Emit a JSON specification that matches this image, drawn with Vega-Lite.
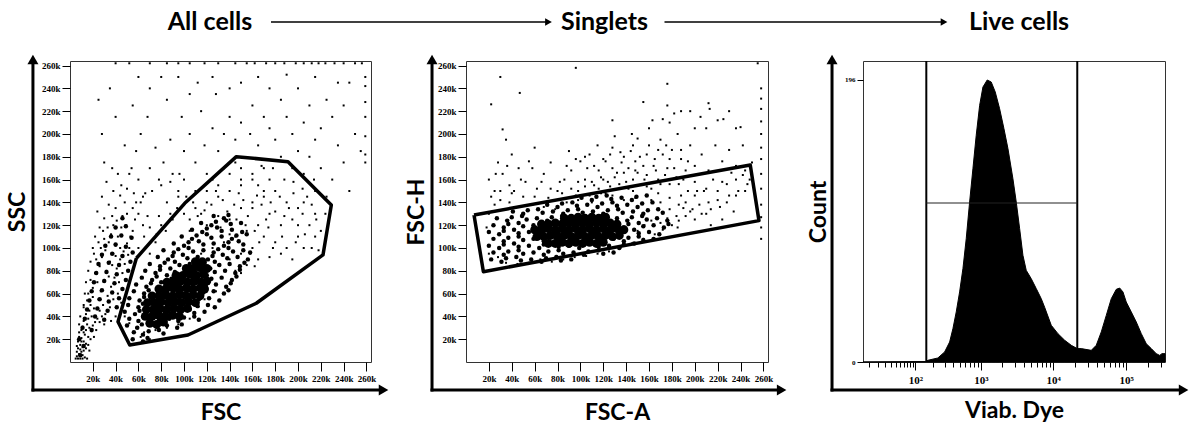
{
"$schema": "https://vega.github.io/schema/vega-lite/v6.json",
"background": "white",
"padding": {"left": 5, "top": 10, "right": 0, "bottom": 0},
"bounds": "flush",
"spacing": 27,
"config": {
  "view": {"stroke": "#333", "strokeWidth": 1},
  "axis": {"labelFont": "Liberation Serif", "labelFontWeight": "bold", "labelFontSize": 9, "labelColor": "#000", "tickColor": "#000", "tickWidth": 1, "domain": false, "grid": false, "titleFont": "Lato", "titleFontWeight": "bold", "titleFontSize": 23, "titleColor": "#000", "labelFlush": false, "labelOverlap": false, "tickCount": 100}
},
"datasets": {
  "headers": [{"label": "All cells"}, {"label": "Singlets"}, {"label": "Live cells"}],
  "links": [{"from": "All cells", "to": "Singlets"}, {"from": "Singlets", "to": "Live cells"}],
  "p1gate": [{"i":0,"x":58.2,"y":91},{"i":1,"x":42.1,"y":35.4},{"i":2,"x":52.4,"y":14.9},{"i":3,"x":103.5,"y":23.7},{"i":4,"x":163.4,"y":51.5},{"i":5,"x":221.9,"y":93.9},{"i":6,"x":229.2,"y":137.7},{"i":7,"x":191.2,"y":175.7},{"i":8,"x":145.9,"y":180.1},{"i":9,"x":100.6,"y":139.2},{"i":10,"x":58.2,"y":91}],
  "p2gate": [{"i":0,"x":7,"y":129},{"i":1,"x":248.5,"y":172.8},{"i":2,"x":256.1,"y":124},{"i":3,"x":15.2,"y":79.2},{"i":4,"x":7,"y":129}],
  "p1c": [{"x":70,"y":34},{"x":76,"y":33},{"x":82,"y":35},{"x":66,"y":40},{"x":72,"y":40},{"x":78,"y":41},{"x":84,"y":40},{"x":90,"y":41},{"x":96,"y":40},{"x":67,"y":46},{"x":73,"y":46},{"x":79,"y":47},{"x":85,"y":46},{"x":91,"y":47},{"x":97,"y":46},{"x":103,"y":47},{"x":68,"y":52},{"x":74,"y":52},{"x":80,"y":53},{"x":86,"y":52},{"x":92,"y":53},{"x":98,"y":52},{"x":104,"y":53},{"x":110,"y":52},{"x":72,"y":58},{"x":78,"y":58},{"x":84,"y":59},{"x":90,"y":58},{"x":96,"y":59},{"x":102,"y":58},{"x":108,"y":59},{"x":114,"y":58},{"x":78,"y":64},{"x":84,"y":64},{"x":90,"y":65},{"x":96,"y":64},{"x":102,"y":65},{"x":108,"y":64},{"x":114,"y":65},{"x":118,"y":64},{"x":85,"y":70},{"x":91,"y":70},{"x":97,"y":71},{"x":103,"y":70},{"x":109,"y":71},{"x":115,"y":70},{"x":120,"y":71},{"x":93,"y":76},{"x":99,"y":76},{"x":105,"y":77},{"x":111,"y":76},{"x":117,"y":77},{"x":102,"y":82},{"x":108,"y":82},{"x":114,"y":83},{"x":120,"y":82},{"x":110,"y":88},{"x":116,"y":88}],
  "p1m": [{"x":55,"y":20},{"x":64,"y":18},{"x":68,"y":21},{"x":56,"y":26},{"x":64,"y":24},{"x":69,"y":27},{"x":78,"y":28},{"x":82,"y":25},{"x":50,"y":32},{"x":59,"y":30},{"x":63,"y":33},{"x":72,"y":34},{"x":76,"y":31},{"x":85,"y":32},{"x":94,"y":30},{"x":98,"y":33},{"x":52,"y":38},{"x":60,"y":36},{"x":65,"y":39},{"x":74,"y":40},{"x":78,"y":37},{"x":87,"y":38},{"x":95,"y":36},{"x":100,"y":39},{"x":109,"y":40},{"x":113,"y":37},{"x":48,"y":44},{"x":57,"y":42},{"x":61,"y":45},{"x":70,"y":46},{"x":74,"y":43},{"x":83,"y":44},{"x":92,"y":42},{"x":96,"y":45},{"x":105,"y":46},{"x":109,"y":43},{"x":118,"y":44},{"x":51,"y":50},{"x":60,"y":48},{"x":64,"y":51},{"x":73,"y":52},{"x":77,"y":49},{"x":86,"y":50},{"x":95,"y":48},{"x":99,"y":51},{"x":108,"y":52},{"x":112,"y":49},{"x":121,"y":50},{"x":127,"y":48},{"x":52,"y":56},{"x":61,"y":54},{"x":65,"y":57},{"x":74,"y":58},{"x":78,"y":55},{"x":87,"y":56},{"x":96,"y":54},{"x":100,"y":57},{"x":109,"y":58},{"x":113,"y":55},{"x":122,"y":56},{"x":131,"y":54},{"x":56,"y":62},{"x":65,"y":60},{"x":69,"y":63},{"x":78,"y":64},{"x":82,"y":61},{"x":91,"y":62},{"x":100,"y":60},{"x":104,"y":63},{"x":113,"y":64},{"x":117,"y":61},{"x":126,"y":62},{"x":135,"y":60},{"x":139,"y":63},{"x":58,"y":68},{"x":67,"y":66},{"x":71,"y":69},{"x":80,"y":70},{"x":84,"y":67},{"x":93,"y":68},{"x":102,"y":66},{"x":106,"y":69},{"x":115,"y":70},{"x":119,"y":67},{"x":128,"y":68},{"x":137,"y":66},{"x":141,"y":69},{"x":63,"y":74},{"x":72,"y":72},{"x":76,"y":75},{"x":85,"y":76},{"x":89,"y":73},{"x":98,"y":74},{"x":107,"y":72},{"x":111,"y":75},{"x":120,"y":76},{"x":124,"y":73},{"x":133,"y":74},{"x":142,"y":72},{"x":146,"y":75},{"x":66,"y":80},{"x":75,"y":78},{"x":79,"y":81},{"x":88,"y":82},{"x":92,"y":79},{"x":101,"y":80},{"x":110,"y":78},{"x":114,"y":81},{"x":123,"y":82},{"x":127,"y":79},{"x":136,"y":80},{"x":145,"y":78},{"x":149,"y":81},{"x":70,"y":86},{"x":79,"y":84},{"x":83,"y":87},{"x":92,"y":88},{"x":96,"y":85},{"x":105,"y":86},{"x":114,"y":84},{"x":118,"y":87},{"x":127,"y":88},{"x":131,"y":85},{"x":140,"y":86},{"x":149,"y":84},{"x":153,"y":87},{"x":77,"y":92},{"x":86,"y":90},{"x":90,"y":93},{"x":99,"y":94},{"x":103,"y":91},{"x":112,"y":92},{"x":121,"y":90},{"x":125,"y":93},{"x":134,"y":94},{"x":138,"y":91},{"x":147,"y":92},{"x":156,"y":90},{"x":82,"y":98},{"x":91,"y":96},{"x":95,"y":99},{"x":104,"y":100},{"x":108,"y":97},{"x":117,"y":98},{"x":126,"y":96},{"x":130,"y":99},{"x":139,"y":100},{"x":143,"y":97},{"x":152,"y":98},{"x":158,"y":96},{"x":91,"y":104},{"x":100,"y":102},{"x":104,"y":105},{"x":113,"y":106},{"x":117,"y":103},{"x":126,"y":104},{"x":135,"y":102},{"x":139,"y":105},{"x":148,"y":106},{"x":152,"y":103},{"x":98,"y":110},{"x":107,"y":108},{"x":111,"y":111},{"x":120,"y":112},{"x":124,"y":109},{"x":133,"y":110},{"x":142,"y":108},{"x":146,"y":111},{"x":155,"y":112},{"x":107,"y":116},{"x":116,"y":114},{"x":120,"y":117},{"x":129,"y":118},{"x":133,"y":115},{"x":142,"y":116},{"x":151,"y":114},{"x":115,"y":122},{"x":124,"y":120},{"x":128,"y":123},{"x":137,"y":124},{"x":141,"y":121},{"x":150,"y":122},{"x":126,"y":128},{"x":135,"y":126},{"x":139,"y":129},
  {"x":11,"y":30},{"x":19,"y":28},{"x":13,"y":38},{"x":22,"y":40},{"x":30,"y":37},{"x":15,"y":46},{"x":24,"y":47},{"x":33,"y":45},{"x":41,"y":48},{"x":17,"y":54},{"x":26,"y":55},{"x":34,"y":53},{"x":43,"y":56},{"x":19,"y":62},{"x":28,"y":63},{"x":37,"y":61},{"x":46,"y":64},{"x":21,"y":70},{"x":30,"y":71},{"x":39,"y":69},{"x":49,"y":72},{"x":23,"y":78},{"x":32,"y":79},{"x":41,"y":77},{"x":51,"y":80},{"x":25,"y":86},{"x":34,"y":87},{"x":43,"y":85},{"x":53,"y":88},{"x":28,"y":94},{"x":37,"y":95},{"x":46,"y":93},{"x":55,"y":96},{"x":31,"y":102},{"x":40,"y":103},{"x":49,"y":101},{"x":36,"y":110},{"x":45,"y":111},{"x":54,"y":109},{"x":40,"y":118},{"x":49,"y":119},{"x":46,"y":126},{"x":8,"y":20},{"x":12,"y":14},{"x":9,"y":6}],
  "p1s": [{"x":5,"y":3},{"x":7,"y":3},{"x":9,"y":3},{"x":11,"y":3},{"x":13,"y":4},{"x":15,"y":3},{"x":6,"y":5},{"x":8,"y":7},{"x":10,"y":9},{"x":7,"y":12},{"x":9,"y":15},{"x":11,"y":13},{"x":12,"y":18},{"x":10,"y":21},{"x":13,"y":24},{"x":8,"y":26},{"x":14,"y":28},{"x":11,"y":31},{"x":15,"y":33},{"x":12,"y":36},{"x":16,"y":38},{"x":9,"y":40},{"x":14,"y":42},{"x":17,"y":45},{"x":12,"y":48},{"x":18,"y":50},{"x":15,"y":54},{"x":20,"y":57},{"x":13,"y":60},{"x":19,"y":62},{"x":10,"y":18},{"x":14,"y":16},{"x":16,"y":22},{"x":6,"y":9},{"x":12,"y":10},{"x":17,"y":30},{"x":8,"y":33},{"x":19,"y":40},{"x":21,"y":47},{"x":22,"y":35},
  {"x":20,"y":65},{"x":24,"y":70},{"x":22,"y":78},{"x":27,"y":62},{"x":30,"y":72},{"x":26,"y":84},{"x":32,"y":80},{"x":28,"y":92},{"x":35,"y":88},{"x":31,"y":98},{"x":38,"y":95},{"x":34,"y":105},{"x":40,"y":102},{"x":36,"y":112},{"x":42,"y":110},{"x":38,"y":120},{"x":45,"y":118},{"x":25,"y":55},{"x":29,"y":50},{"x":33,"y":58},{"x":36,"y":66},{"x":39,"y":74},{"x":41,"y":82},{"x":44,"y":90},{"x":47,"y":97},{"x":50,"y":104},{"x":53,"y":110},{"x":23,"y":90},{"x":27,"y":100},{"x":30,"y":108},{"x":33,"y":118},{"x":37,"y":128},{"x":41,"y":124},{"x":46,"y":128},{"x":49,"y":120},{"x":18,"y":72},{"x":16,"y":80},{"x":21,"y":95},{"x":25,"y":105},{"x":29,"y":115},{"x":34,"y":75},{"x":37,"y":85},{"x":40,"y":93},{"x":43,"y":70},{"x":46,"y":78},{"x":48,"y":86},{"x":51,"y":94},{"x":26,"y":45},{"x":31,"y":42},{"x":35,"y":48},{"x":38,"y":55},{"x":42,"y":60},{"x":45,"y":52},{"x":48,"y":44},{"x":40,"y":40},{"x":36,"y":36},{"x":30,"y":33},{"x":44,"y":100},{"x":52,"y":100},{"x":55,"y":115},{"x":57,"y":125},{"x":50,"y":130},{"x":40,"y":135},{"x":48,"y":140},{"x":55,"y":135},{"x":60,"y":130},
  {"x":30,"y":175},{"x":37,"y":170},{"x":28,"y":200},{"x":45,"y":155},{"x":52,"y":165},{"x":60,"y":160},{"x":66,"y":148},{"x":70,"y":170},{"x":58,"y":185},{"x":48,"y":190},{"x":62,"y":200},{"x":40,"y":215},{"x":55,"y":225},{"x":68,"y":215},{"x":75,"y":188},{"x":82,"y":175},{"x":90,"y":165},{"x":78,"y":160},{"x":95,"y":150},{"x":88,"y":195},{"x":100,"y":185},{"x":105,"y":200},{"x":98,"y":215},{"x":85,"y":230},{"x":70,"y":240},{"x":110,"y":175},{"x":118,"y":190},{"x":125,"y":205},{"x":115,"y":220},{"x":130,"y":185},{"x":135,"y":200},{"x":140,"y":215},{"x":128,"y":235},{"x":112,"y":245},{"x":95,"y":250},{"x":145,"y":195},{"x":150,"y":210},{"x":158,"y":200},{"x":165,"y":190},{"x":160,"y":225},{"x":170,"y":215},{"x":175,"y":205},{"x":180,"y":195},{"x":185,"y":230},{"x":190,"y":215},{"x":195,"y":200},{"x":200,"y":185},{"x":205,"y":210},{"x":210,"y":225},{"x":215,"y":195},{"x":220,"y":205},{"x":225,"y":230},{"x":230,"y":215},{"x":235,"y":190},{"x":240,"y":225},{"x":245,"y":245},{"x":250,"y":200},{"x":255,"y":185},{"x":210,"y":180},{"x":220,"y":170},{"x":230,"y":160},{"x":240,"y":175},{"x":200,"y":240},{"x":175,"y":240},{"x":150,"y":245},{"x":165,"y":250},{"x":190,"y":252},{"x":215,"y":250},{"x":235,"y":245},{"x":125,"y":250},{"x":60,"y":250},{"x":25,"y":230},{"x":35,"y":240},{"x":80,"y":250},{"x":105,"y":235},{"x":140,"y":240},{"x":185,"y":180},{"x":195,"y":170},{"x":170,"y":170},{"x":205,"y":165},{"x":215,"y":150},{"x":225,"y":145},{"x":245,"y":150},{"x":160,"y":160},{"x":150,"y":170},{"x":100,"y":160},{"x":120,"y":165},
  {"x":40,"y":262},{"x":52,"y":262},{"x":70,"y":262},{"x":85,"y":262},{"x":95,"y":262},{"x":105,"y":262},{"x":118,"y":262},{"x":130,"y":262},{"x":145,"y":262},{"x":155,"y":262},{"x":162,"y":262},{"x":172,"y":262},{"x":180,"y":262},{"x":188,"y":262},{"x":198,"y":262},{"x":205,"y":262},{"x":212,"y":262},{"x":218,"y":262},{"x":224,"y":262},{"x":232,"y":262},{"x":240,"y":262},{"x":250,"y":262},{"x":256,"y":262},
  {"x":259,"y":250},{"x":259,"y":242},{"x":259,"y":228},{"x":259,"y":215},{"x":259,"y":198},{"x":259,"y":182},{"x":259,"y":175},
  {"x":120,"y":120},{"x":130,"y":128},{"x":140,"y":125},{"x":150,"y":135},{"x":160,"y":140},{"x":170,"y":145},{"x":180,"y":150},{"x":190,"y":140},{"x":200,"y":135},{"x":175,"y":130},{"x":165,"y":120},{"x":155,"y":115},{"x":145,"y":110},{"x":135,"y":105},{"x":125,"y":100},{"x":115,"y":95},{"x":185,"y":120},{"x":195,"y":125},{"x":205,"y":140},{"x":210,"y":120},{"x":215,"y":130},{"x":170,"y":110},{"x":160,"y":100},{"x":150,"y":95},{"x":140,"y":90},{"x":130,"y":85},{"x":120,"y":82},{"x":180,"y":105},{"x":190,"y":100},{"x":200,"y":110},{"x":165,"y":155},{"x":175,"y":160},{"x":150,"y":155},{"x":140,"y":150},{"x":130,"y":145},{"x":120,"y":140},{"x":110,"y":135},{"x":100,"y":130},{"x":90,"y":125},{"x":80,"y":120},{"x":110,"y":150},{"x":125,"y":160},{"x":135,"y":170},{"x":85,"y":140},{"x":95,"y":145},{"x":105,"y":115},{"x":75,"y":105},{"x":70,"y":95},{"x":65,"y":110},{"x":60,"y":100},{"x":145,"y":80},{"x":155,"y":85},{"x":165,"y":90},{"x":175,"y":92},{"x":185,"y":95},{"x":195,"y":90},{"x":205,"y":100},{"x":215,"y":110},{"x":150,"y":78},{"x":162,"y":84},{"x":128,"y":62},{"x":118,"y":55},{"x":105,"y":38},{"x":95,"y":33},{"x":85,"y":30},{"x":75,"y":28},{"x":65,"y":26},{"x":58,"y":30},{"x":52,"y":34},{"x":48,"y":40},{"x":55,"y":20},{"x":62,"y":22},{"x":70,"y":20},
  {"x":105,"y":125},{"x":112,"y":128},{"x":118,"y":133},{"x":124,"y":138},{"x":128,"y":150},{"x":134,"y":142},{"x":138,"y":132},{"x":144,"y":138},{"x":148,"y":148},{"x":152,"y":142},{"x":156,"y":128},{"x":160,"y":135},{"x":164,"y":146},{"x":168,"y":138},{"x":172,"y":125},{"x":176,"y":140},{"x":180,"y":132},{"x":184,"y":145},{"x":188,"y":128},{"x":192,"y":135},{"x":196,"y":148},{"x":200,"y":120},{"x":204,"y":130},{"x":208,"y":145},{"x":212,"y":138},{"x":216,"y":125},{"x":220,"y":115},{"x":224,"y":130},{"x":198,"y":105},{"x":206,"y":112},{"x":212,"y":100},{"x":218,"y":98},{"x":174,"y":118},{"x":166,"y":105},{"x":158,"y":95},{"x":186,"y":110},{"x":178,"y":100},{"x":162,"y":115},{"x":146,"y":125},{"x":154,"y":120},{"x":132,"y":118},{"x":140,"y":112},{"x":170,"y":150},{"x":160,"y":165},{"x":150,"y":160},{"x":140,"y":165},{"x":130,"y":155},{"x":120,"y":150},{"x":188,"y":160},{"x":196,"y":158},{"x":204,"y":152},{"x":214,"y":160},{"x":178,"y":170},{"x":168,"y":172},{"x":145,"y":175},{"x":115,"y":130},{"x":108,"y":140},{"x":102,"y":145},{"x":94,"y":135},{"x":88,"y":130},{"x":84,"y":115},{"x":76,"y":112},{"x":70,"y":118},{"x":64,"y":120},{"x":68,"y":128},{"x":78,"y":128},{"x":58,"y":140},{"x":64,"y":145},{"x":72,"y":150},{"x":80,"y":155},{"x":88,"y":158},{"x":96,"y":165},
  {"x":22,"y":110},{"x":26,"y":118},{"x":30,"y":126},{"x":24,"y":132},{"x":34,"y":138},{"x":28,"y":145},{"x":38,"y":150},{"x":32,"y":158},{"x":44,"y":146},{"x":50,"y":152},{"x":56,"y":148},{"x":62,"y":140},{"x":42,"y":165},{"x":54,"y":170},{"x":20,"y":100},{"x":18,"y":88},{"x":16,"y":60},{"x":14,"y":70},{"x":12,"y":50},
  {"x":6,"y":14},{"x":8,"y":22},{"x":10,"y":28},{"x":12,"y":26},{"x":7,"y":18},{"x":9,"y":11},{"x":11,"y":6},{"x":14,"y":12},{"x":16,"y":15},{"x":18,"y":20},{"x":17,"y":10},{"x":19,"y":27},{"x":20,"y":32},{"x":21,"y":22},{"x":23,"y":28},{"x":24,"y":38},{"x":26,"y":35},{"x":28,"y":40}],
  "p2c": [{"x":72,"y":104},{"x":78,"y":104},{"x":84,"y":105},{"x":90,"y":104},{"x":96,"y":105},{"x":102,"y":104},{"x":108,"y":105},{"x":114,"y":104},{"x":120,"y":105},{"x":62,"y":110},{"x":68,"y":110},{"x":74,"y":111},{"x":80,"y":110},{"x":86,"y":111},{"x":92,"y":110},{"x":98,"y":111},{"x":104,"y":110},{"x":110,"y":111},{"x":116,"y":110},{"x":122,"y":111},{"x":128,"y":110},{"x":134,"y":111},{"x":60,"y":116},{"x":66,"y":116},{"x":72,"y":117},{"x":78,"y":116},{"x":84,"y":117},{"x":90,"y":116},{"x":96,"y":117},{"x":102,"y":116},{"x":108,"y":117},{"x":114,"y":116},{"x":120,"y":117},{"x":126,"y":116},{"x":132,"y":117},{"x":138,"y":116},{"x":66,"y":121},{"x":72,"y":121},{"x":78,"y":122},{"x":84,"y":121},{"x":90,"y":122},{"x":96,"y":121},{"x":102,"y":122},{"x":108,"y":121},{"x":114,"y":122},{"x":120,"y":121},{"x":126,"y":122},{"x":132,"y":121},{"x":86,"y":126},{"x":92,"y":126},{"x":98,"y":127},{"x":104,"y":126},{"x":110,"y":127},{"x":116,"y":126},{"x":122,"y":127}],
  "p2m": [{"x":22,"y":90},{"x":31,"y":88},{"x":35,"y":91},{"x":44,"y":92},{"x":48,"y":89},{"x":57,"y":90},{"x":66,"y":88},{"x":70,"y":91},{"x":79,"y":92},{"x":83,"y":89},{"x":92,"y":90},{"x":24,"y":96},{"x":33,"y":94},{"x":37,"y":97},{"x":46,"y":98},{"x":50,"y":95},{"x":59,"y":96},{"x":68,"y":94},{"x":72,"y":97},{"x":81,"y":98},{"x":85,"y":95},{"x":94,"y":96},{"x":103,"y":94},{"x":107,"y":97},{"x":116,"y":98},{"x":120,"y":95},{"x":129,"y":96},{"x":20,"y":102},{"x":29,"y":100},{"x":33,"y":103},{"x":42,"y":104},{"x":46,"y":101},{"x":55,"y":102},{"x":64,"y":100},{"x":68,"y":103},{"x":77,"y":104},{"x":81,"y":101},{"x":90,"y":102},{"x":99,"y":100},{"x":103,"y":103},{"x":112,"y":104},{"x":116,"y":101},{"x":125,"y":102},{"x":134,"y":100},{"x":138,"y":103},{"x":147,"y":104},{"x":24,"y":108},{"x":33,"y":106},{"x":37,"y":109},{"x":46,"y":110},{"x":50,"y":107},{"x":59,"y":108},{"x":68,"y":106},{"x":72,"y":109},{"x":81,"y":110},{"x":85,"y":107},{"x":94,"y":108},{"x":103,"y":106},{"x":107,"y":109},{"x":116,"y":110},{"x":120,"y":107},{"x":129,"y":108},{"x":138,"y":106},{"x":142,"y":109},{"x":151,"y":110},{"x":155,"y":107},{"x":164,"y":108},{"x":20,"y":114},{"x":29,"y":112},{"x":33,"y":115},{"x":42,"y":116},{"x":46,"y":113},{"x":55,"y":114},{"x":64,"y":112},{"x":68,"y":115},{"x":77,"y":116},{"x":81,"y":113},{"x":90,"y":114},{"x":99,"y":112},{"x":103,"y":115},{"x":112,"y":116},{"x":116,"y":113},{"x":125,"y":114},{"x":134,"y":112},{"x":138,"y":115},{"x":147,"y":116},{"x":151,"y":113},{"x":160,"y":114},{"x":169,"y":112},{"x":24,"y":120},{"x":33,"y":118},{"x":37,"y":121},{"x":46,"y":122},{"x":50,"y":119},{"x":59,"y":120},{"x":68,"y":118},{"x":72,"y":121},{"x":81,"y":122},{"x":85,"y":119},{"x":94,"y":120},{"x":103,"y":118},{"x":107,"y":121},{"x":116,"y":122},{"x":120,"y":119},{"x":129,"y":120},{"x":138,"y":118},{"x":142,"y":121},{"x":151,"y":122},{"x":155,"y":119},{"x":164,"y":120},{"x":173,"y":118},{"x":177,"y":121},{"x":27,"y":126},{"x":36,"y":124},{"x":40,"y":127},{"x":49,"y":128},{"x":53,"y":125},{"x":62,"y":126},{"x":71,"y":124},{"x":75,"y":127},{"x":84,"y":128},{"x":88,"y":125},{"x":97,"y":126},{"x":106,"y":124},{"x":110,"y":127},{"x":119,"y":128},{"x":123,"y":125},{"x":132,"y":126},{"x":141,"y":124},{"x":145,"y":127},{"x":154,"y":128},{"x":158,"y":125},{"x":167,"y":126},{"x":176,"y":124},{"x":41,"y":132},{"x":50,"y":130},{"x":54,"y":133},{"x":63,"y":134},{"x":67,"y":131},{"x":76,"y":132},{"x":85,"y":130},{"x":89,"y":133},{"x":98,"y":134},{"x":102,"y":131},{"x":111,"y":132},{"x":120,"y":130},{"x":124,"y":133},{"x":133,"y":134},{"x":137,"y":131},{"x":146,"y":132},{"x":155,"y":130},{"x":159,"y":133},{"x":168,"y":134},{"x":172,"y":131},{"x":71,"y":138},{"x":80,"y":136},{"x":84,"y":139},{"x":93,"y":140},{"x":97,"y":137},{"x":106,"y":138},{"x":115,"y":136},{"x":119,"y":139},{"x":128,"y":140},{"x":132,"y":137},{"x":141,"y":138},{"x":150,"y":136},{"x":154,"y":139},{"x":163,"y":140},{"x":101,"y":144},{"x":110,"y":142},{"x":114,"y":145},{"x":123,"y":146},{"x":127,"y":143},{"x":136,"y":144},{"x":145,"y":142},{"x":149,"y":145},{"x":158,"y":146}],
  "p2s": [{"x":150,"y":115},{"x":156,"y":120},{"x":162,"y":124},{"x":170,"y":122},{"x":176,"y":126},{"x":184,"y":128},{"x":190,"y":135},{"x":196,"y":132},{"x":204,"y":138},{"x":212,"y":140},{"x":220,"y":142},{"x":228,"y":140},{"x":236,"y":146},{"x":244,"y":150},{"x":200,"y":125},{"x":210,"y":130},{"x":185,"y":118},{"x":165,"y":112},{"x":155,"y":108},{"x":145,"y":104},{"x":135,"y":100},{"x":125,"y":97},{"x":115,"y":95},{"x":105,"y":93},{"x":95,"y":92},{"x":85,"y":90},{"x":75,"y":88},{"x":65,"y":90},{"x":55,"y":87},{"x":45,"y":86},{"x":35,"y":87},{"x":28,"y":92},{"x":20,"y":95},{"x":18,"y":118},{"x":20,"y":130},{"x":25,"y":138},{"x":30,"y":142},{"x":38,"y":140},{"x":48,"y":136},{"x":58,"y":138},{"x":68,"y":136},{"x":78,"y":134},{"x":88,"y":140},{"x":98,"y":142},{"x":108,"y":146},{"x":118,"y":148},{"x":128,"y":146},{"x":138,"y":142},{"x":148,"y":144},{"x":158,"y":146},{"x":168,"y":148},{"x":178,"y":144},{"x":188,"y":146},{"x":194,"y":150},{"x":200,"y":158},{"x":208,"y":150},{"x":216,"y":160},{"x":224,"y":158},{"x":232,"y":166},{"x":242,"y":164},{"x":250,"y":175},{"x":248,"y":160},
  {"x":20,"y":160},{"x":25,"y":150},{"x":28,"y":175},{"x":32,"y":165},{"x":38,"y":155},{"x":42,"y":150},{"x":46,"y":170},{"x":52,"y":158},{"x":55,"y":176},{"x":62,"y":152},{"x":68,"y":165},{"x":74,"y":175},{"x":80,"y":150},{"x":86,"y":160},{"x":92,"y":168},{"x":98,"y":150},{"x":100,"y":176},{"x":104,"y":160},{"x":108,"y":182},{"x":112,"y":155},{"x":116,"y":168},{"x":120,"y":178},{"x":124,"y":158},{"x":128,"y":188},{"x":132,"y":166},{"x":136,"y":175},{"x":140,"y":158},{"x":144,"y":185},{"x":148,"y":168},{"x":152,"y":180},{"x":156,"y":160},{"x":160,"y":190},{"x":164,"y":172},{"x":168,"y":160},{"x":172,"y":182},{"x":176,"y":170},{"x":180,"y":186},{"x":184,"y":162},{"x":188,"y":178},{"x":192,"y":168},{"x":196,"y":190},{"x":200,"y":172},{"x":206,"y":182},{"x":212,"y":168},{"x":218,"y":190},{"x":224,"y":176},{"x":230,"y":186},{"x":236,"y":172},{"x":242,"y":190},{"x":210,"y":205},{"x":205,"y":215},{"x":220,"y":212},{"x":236,"y":205},{"x":185,"y":200},{"x":170,"y":195},{"x":150,"y":196},{"x":130,"y":198},{"x":115,"y":190},{"x":90,"y":185},{"x":60,"y":188},{"x":40,"y":182},{"x":122,"y":148},{"x":134,"y":152},{"x":146,"y":150},{"x":158,"y":154},{"x":110,"y":140},{"x":96,"y":146},{"x":84,"y":148},{"x":72,"y":144},{"x":155,"y":172},{"x":165,"y":178},{"x":175,"y":190},{"x":135,"y":184},{"x":142,"y":170},{"x":118,"y":162},{"x":106,"y":170},
  {"x":22,"y":226},{"x":30,"y":250},{"x":32,"y":204},{"x":35,"y":195},{"x":47,"y":236},{"x":96,"y":258},{"x":176,"y":244},{"x":176,"y":225},{"x":155,"y":228},{"x":163,"y":212},{"x":172,"y":213},{"x":178,"y":210},{"x":182,"y":218},{"x":188,"y":220},{"x":196,"y":220},{"x":200,"y":205},{"x":212,"y":227},{"x":213,"y":222},{"x":240,"y":206},{"x":225,"y":213},{"x":230,"y":220},{"x":160,"y":205},{"x":145,"y":200},{"x":128,"y":212},{"x":255,"y":262},
  {"x":258,"y":240},{"x":258,"y":231},{"x":258,"y":222},{"x":258,"y":211},{"x":258,"y":200},{"x":258,"y":188},{"x":258,"y":178},{"x":258,"y":165},{"x":258,"y":152},{"x":258,"y":138},{"x":258,"y":127},{"x":258,"y":118},{"x":258,"y":108},
  {"x":92,"y":152},{"x":98,"y":158},{"x":104,"y":154},{"x":110,"y":158},{"x":116,"y":152},{"x":120,"y":160},{"x":126,"y":154},{"x":130,"y":162},{"x":134,"y":156},{"x":138,"y":166},{"x":142,"y":152},{"x":146,"y":160},{"x":150,"y":166},{"x":154,"y":156},{"x":158,"y":164},{"x":162,"y":152},{"x":166,"y":168},{"x":170,"y":156},{"x":174,"y":164},{"x":178,"y":156},{"x":182,"y":170},{"x":186,"y":156},{"x":190,"y":160},{"x":194,"y":176},{"x":198,"y":164},{"x":202,"y":150},{"x":112,"y":172},{"x":122,"y":176},{"x":128,"y":170},{"x":138,"y":180},{"x":148,"y":176},{"x":158,"y":182},{"x":168,"y":186},{"x":178,"y":178},{"x":188,"y":186},{"x":146,"y":190},{"x":126,"y":182},{"x":104,"y":180},{"x":60,"y":145},{"x":50,"y":145},{"x":40,"y":148},{"x":30,"y":150},{"x":22,"y":145},{"x":26,"y":165},{"x":36,"y":172},{"x":48,"y":160},{"x":58,"y":170},{"x":66,"y":158},{"x":74,"y":152},{"x":82,"y":158},{"x":88,"y":172},{"x":96,"y":178},
  {"x":180,"y":120},{"x":186,"y":124},{"x":192,"y":128},{"x":198,"y":134},{"x":206,"y":130},{"x":214,"y":134},{"x":222,"y":136},{"x":230,"y":146},{"x":238,"y":150},{"x":246,"y":156},{"x":192,"y":140},{"x":200,"y":146},{"x":210,"y":152},{"x":220,"y":150},{"x":228,"y":156},{"x":236,"y":160},{"x":244,"y":168},{"x":214,"y":120},{"x":224,"y":125},{"x":234,"y":132},{"x":172,"y":116},{"x":178,"y":134},{"x":186,"y":138},{"x":170,"y":140},{"x":162,"y":142}],
  "hist": [{"v":-6,"n":0},{"v":150,"n":0.3},{"v":164,"n":1.2},{"v":235,"n":2.8},{"v":298,"n":7},{"v":354,"n":13.9},{"v":396,"n":23.2},{"v":443,"n":34.8},{"v":496,"n":48.7},{"v":554,"n":64.9},{"v":618,"n":85.7},{"v":691,"n":111.2},{"v":770,"n":134.3},{"v":858,"n":157.6},{"v":959,"n":178.4},{"v":1067,"n":191.1},{"v":1226,"n":196},{"v":1395,"n":194.6},{"v":1587,"n":187.7},{"v":1828,"n":176},{"v":2097,"n":162.2},{"v":2384,"n":148.3},{"v":2794,"n":127.4},{"v":3106,"n":111.2},{"v":3460,"n":92.7},{"v":3841,"n":74.2},{"v":4269,"n":63.7},{"v":5004,"n":57.9},{"v":5864,"n":51},{"v":6870,"n":44},{"v":7653,"n":38},{"v":9428,"n":25.5},{"v":11650,"n":19.7},{"v":14411,"n":15.1},{"v":17748,"n":11.6},{"v":21446,"n":9.3},{"v":24340,"n":9.3},{"v":33373,"n":8.1},{"v":39079,"n":11.6},{"v":45764,"n":20.9},{"v":53582,"n":32.4},{"v":62749,"n":44},{"v":73471,"n":50.5},{"v":81783,"n":51.4},{"v":90713,"n":48.7},{"v":100601,"n":41.7},{"v":117905,"n":34.8},{"v":138093,"n":27.8},{"v":161680,"n":19.7},{"v":189181,"n":12.7},{"v":221729,"n":9.3},{"v":259324,"n":5.8},{"v":288885,"n":4.6},{"v":310309,"n":5.8},{"v":341500,"n":5.8}]
},
"vconcat": [
  {
    "width": 1089, "height": 24, "view": {"stroke": null},
    "layer": [
      {"data": {"name": "headers"}, "transform": [{"filter": "datum.label != 'Singlets'"}],
       "mark": {"type": "text", "font": "Lato", "fontWeight": "bold", "fontSize": 25, "baseline": "middle", "color": "#000"},
       "encoding": {"x": {"field": "label", "type": "nominal", "scale": {"type": "point", "padding": 0.346, "domain": ["All cells", "Singlets", "Live cells"]}, "axis": null},
                    "y": {"datum": 0, "type": "quantitative", "scale": {"domain": [-1, 1]}, "axis": null},
                    "text": {"field": "label"}}},
      {"data": {"name": "headers"}, "transform": [{"filter": "datum.label == 'Singlets'"}],
       "mark": {"type": "text", "font": "Lato", "fontWeight": "bold", "fontSize": 25, "baseline": "middle", "color": "#000", "dx": -10},
       "encoding": {"x": {"field": "label", "type": "nominal"}, "y": {"datum": 0, "type": "quantitative"}, "text": {"field": "label"}}},
      {"data": {"name": "links"}, "transform": [{"filter": "datum.from == 'All cells'"}],
       "mark": {"type": "rule", "strokeWidth": 1.5, "color": "#000", "xOffset": 61, "x2Offset": -66},
       "encoding": {"x": {"field": "from", "type": "nominal"}, "x2": {"field": "to"}, "y": {"datum": 0, "type": "quantitative"}}},
      {"data": {"name": "links"}, "transform": [{"filter": "datum.from == 'All cells'"}],
       "mark": {"type": "point", "shape": "triangle-right", "filled": true, "size": 60, "color": "#000", "opacity": 1, "xOffset": -66},
       "encoding": {"x": {"field": "to", "type": "nominal"}, "y": {"datum": 0, "type": "quantitative"}}},
      {"data": {"name": "links"}, "transform": [{"filter": "datum.from == 'Singlets'"}],
       "mark": {"type": "rule", "strokeWidth": 1.5, "color": "#000", "xOffset": 50, "x2Offset": -75},
       "encoding": {"x": {"field": "from", "type": "nominal"}, "x2": {"field": "to"}, "y": {"datum": 0, "type": "quantitative"}}},
      {"data": {"name": "links"}, "transform": [{"filter": "datum.from == 'Singlets'"}],
       "mark": {"type": "point", "shape": "triangle-right", "filled": true, "size": 60, "color": "#000", "opacity": 1, "xOffset": -75},
       "encoding": {"x": {"field": "to", "type": "nominal"}, "y": {"datum": 0, "type": "quantitative"}}}
    ]
  },
  {
    "hconcat": [
      {
        "width": 301, "height": 301,
        "layer": [
          {"data": {"name": "p1s"}, "mark": {"type": "square", "size": 4, "color": "#000", "opacity": 1},
           "encoding": {
             "x": {"field": "x", "type": "quantitative", "scale": {"domain": [0, 264], "nice": false, "zero": false},
                   "axis": {"title": "FSC", "values": [20,40,60,80,100,120,140,160,180,200,220,240,260], "labelExpr": "datum.value + 'k'", "tickSize": 9, "labelPadding": 3, "titlePadding": 18}},
             "y": {"field": "y", "type": "quantitative", "scale": {"domain": [0, 264], "nice": false, "zero": false},
                   "axis": {"title": "SSC", "values": [20,40,60,80,100,120,140,160,180,200,220,240,260], "labelExpr": "datum.value + 'k'", "tickSize": 8, "labelPadding": 2, "titlePadding": 12}}}},
          {"data": {"name": "p1m"}, "mark": {"type": "circle", "size": 20, "color": "#000", "opacity": 1},
           "encoding": {"x": {"field": "x", "type": "quantitative"}, "y": {"field": "y", "type": "quantitative"}}},
          {"data": {"name": "p1c"}, "mark": {"type": "circle", "size": 80, "color": "#000", "opacity": 1},
           "encoding": {"x": {"field": "x", "type": "quantitative"}, "y": {"field": "y", "type": "quantitative"}}},
          {"data": {"name": "p1gate"}, "mark": {"type": "line", "strokeWidth": 3.5, "color": "#000", "strokeJoin": "round"},
           "encoding": {"x": {"field": "x", "type": "quantitative"}, "y": {"field": "y", "type": "quantitative"}, "order": {"field": "i", "type": "quantitative"}}},
          {"data": {"values": [{}]}, "mark": {"type": "rule", "strokeWidth": 3, "color": "#000", "strokeCap": "square"},
           "encoding": {"x": {"datum": -32.5, "type": "quantitative"}, "y": {"datum": -24.6, "type": "quantitative"}, "y2": {"datum": 262}}},
          {"data": {"values": [{}]}, "mark": {"type": "rule", "strokeWidth": 3, "color": "#000", "strokeCap": "square"},
           "encoding": {"x": {"datum": -32.5, "type": "quantitative"}, "x2": {"datum": 272}, "y": {"datum": -24.6, "type": "quantitative"}}},
          {"data": {"values": [{}]}, "mark": {"type": "point", "shape": "triangle-up", "filled": true, "size": 121, "color": "#000", "opacity": 1},
           "encoding": {"x": {"datum": -32.5, "type": "quantitative"}, "y": {"datum": 265.4, "type": "quantitative"}}},
          {"data": {"values": [{}]}, "mark": {"type": "point", "shape": "triangle-right", "filled": true, "size": 121, "color": "#000", "opacity": 1},
           "encoding": {"x": {"datum": 275, "type": "quantitative"}, "y": {"datum": -24.6, "type": "quantitative"}}}
        ]
      },
      {
        "width": 302, "height": 301,
        "layer": [
          {"data": {"name": "p2s"}, "mark": {"type": "square", "size": 4, "color": "#000", "opacity": 1},
           "encoding": {
             "x": {"field": "x", "type": "quantitative", "scale": {"domain": [0, 264], "nice": false, "zero": false},
                   "axis": {"title": "FSC-A", "values": [20,40,60,80,100,120,140,160,180,200,220,240,260], "labelExpr": "datum.value + 'k'", "tickSize": 9, "labelPadding": 3, "titlePadding": 18}},
             "y": {"field": "y", "type": "quantitative", "scale": {"domain": [0, 264], "nice": false, "zero": false},
                   "axis": {"title": "FSC-H", "values": [20,40,60,80,100,120,140,160,180,200,220,240,260], "labelExpr": "datum.value + 'k'", "tickSize": 8, "labelPadding": 2, "titlePadding": 9}}}},
          {"data": {"name": "p2m"}, "mark": {"type": "circle", "size": 20, "color": "#000", "opacity": 1},
           "encoding": {"x": {"field": "x", "type": "quantitative"}, "y": {"field": "y", "type": "quantitative"}}},
          {"data": {"name": "p2c"}, "mark": {"type": "circle", "size": 80, "color": "#000", "opacity": 1},
           "encoding": {"x": {"field": "x", "type": "quantitative"}, "y": {"field": "y", "type": "quantitative"}}},
          {"data": {"name": "p2gate"}, "mark": {"type": "line", "strokeWidth": 3.5, "color": "#000", "strokeJoin": "round"},
           "encoding": {"x": {"field": "x", "type": "quantitative"}, "y": {"field": "y", "type": "quantitative"}, "order": {"field": "i", "type": "quantitative"}}},
          {"data": {"values": [{}]}, "mark": {"type": "rule", "strokeWidth": 3, "color": "#000", "strokeCap": "square"},
           "encoding": {"x": {"datum": -29.7, "type": "quantitative"}, "y": {"datum": -24.6, "type": "quantitative"}, "y2": {"datum": 262}}},
          {"data": {"values": [{}]}, "mark": {"type": "rule", "strokeWidth": 3, "color": "#000", "strokeCap": "square"},
           "encoding": {"x": {"datum": -29.7, "type": "quantitative"}, "x2": {"datum": 272}, "y": {"datum": -24.6, "type": "quantitative"}}},
          {"data": {"values": [{}]}, "mark": {"type": "point", "shape": "triangle-up", "filled": true, "size": 121, "color": "#000", "opacity": 1},
           "encoding": {"x": {"datum": -29.7, "type": "quantitative"}, "y": {"datum": 265.4, "type": "quantitative"}}},
          {"data": {"values": [{}]}, "mark": {"type": "point", "shape": "triangle-right", "filled": true, "size": 121, "color": "#000", "opacity": 1},
           "encoding": {"x": {"datum": 275.9, "type": "quantitative"}, "y": {"datum": -24.6, "type": "quantitative"}}}
        ]
      },
      {
        "width": 302, "height": 301,
        "layer": [
          {"data": {"name": "hist"}, "mark": {"type": "area", "color": "#000", "stroke": "#000", "strokeWidth": 1, "opacity": 1},
           "encoding": {
             "x": {"field": "v", "type": "quantitative", "scale": {"type": "symlog", "constant": 30, "domain": [-6, 341500], "nice": false, "zero": false},
                   "axis": {"title": "Viab. Dye", "values": [0,10,20,30,40,50,60,70,80,90,100,200,300,400,500,600,700,800,900,1000,2000,3000,4000,5000,6000,7000,8000,9000,10000,20000,30000,40000,50000,60000,70000,80000,90000,100000,200000,300000],
                            "tickCount": 100, "labelFontSize": 11,
                            "labelExpr": "datum.value == 100 ? '10²' : datum.value == 1000 ? '10³' : datum.value == 10000 ? '10⁴' : datum.value == 100000 ? '10⁵' : ''",
                            "tickSize": {"condition": {"test": "datum.value == 100 || datum.value == 1000 || datum.value == 10000 || datum.value == 100000", "value": 8}, "value": 5},
                            "labelPadding": 4, "titlePadding": 14}},
             "y": {"field": "n", "type": "quantitative", "scale": {"domain": [0, 209.2], "nice": false, "zero": false},
                   "axis": {"title": "Count", "values": [0, 196], "labelFontSize": 7, "tickSize": 6, "labelPadding": 2, "titlePadding": 14}}}},
          {"data": {"values": [{}]}, "mark": {"type": "rule", "strokeWidth": 2, "color": "#000"},
           "encoding": {"x": {"datum": 154, "type": "quantitative"}}},
          {"data": {"values": [{}]}, "mark": {"type": "rule", "strokeWidth": 2, "color": "#000"},
           "encoding": {"x": {"datum": 21450, "type": "quantitative"}}},
          {"data": {"values": [{}]}, "mark": {"type": "rule", "strokeWidth": 1.2, "color": "#222"},
           "encoding": {"x": {"datum": 154, "type": "quantitative"}, "x2": {"datum": 21450}, "y": {"datum": 110.5, "type": "quantitative"}}},
          {"data": {"values": [{}]}, "mark": {"type": "rule", "strokeWidth": 3, "color": "#000", "strokeCap": "square"},
           "encoding": {"x": {"datum": -65.6, "type": "quantitative"}, "y": {"datum": -19.5, "type": "quantitative"}, "y2": {"datum": 207.8}}},
          {"data": {"values": [{}]}, "mark": {"type": "rule", "strokeWidth": 3, "color": "#000", "strokeCap": "square"},
           "encoding": {"x": {"datum": -65.6, "type": "quantitative"}, "x2": {"datum": 514600}, "y": {"datum": -19.5, "type": "quantitative"}}},
          {"data": {"values": [{}]}, "mark": {"type": "point", "shape": "triangle-up", "filled": true, "size": 121, "color": "#000", "opacity": 1},
           "encoding": {"x": {"datum": -65.6, "type": "quantitative"}, "y": {"datum": 210.3, "type": "quantitative"}}},
          {"data": {"values": [{}]}, "mark": {"type": "point", "shape": "triangle-right", "filled": true, "size": 121, "color": "#000", "opacity": 1},
           "encoding": {"x": {"datum": 613700, "type": "quantitative"}, "y": {"datum": -19.5, "type": "quantitative"}}}
        ]
      }
    ],
    "spacing": 95,
    "bounds": "flush"
  }
]
}
